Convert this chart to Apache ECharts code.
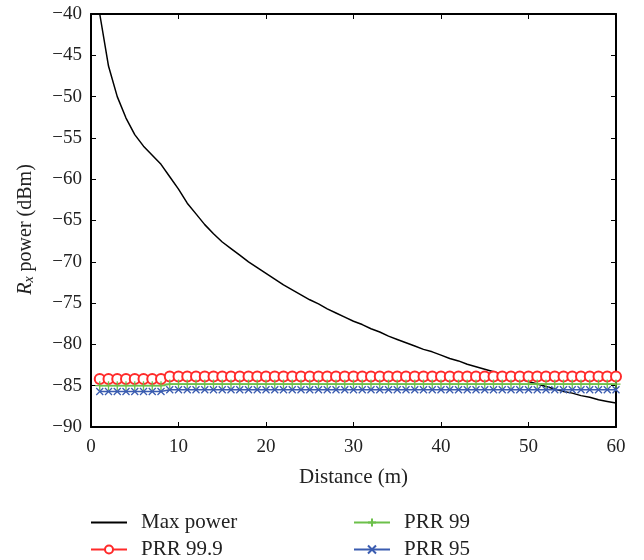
<!DOCTYPE html>
<html>
<head>
<meta charset="utf-8">
<script src="https://cdn.jsdelivr.net/npm/echarts@6/dist/echarts.min.js"></script>
<style>html,body{margin:0;padding:0;background:#fff}#c{width:644px;height:560px}</style>
</head>
<body>
<div id="c"></div>
<script>
var distance = [1,2,3,4,5,6,7,8,9,10,11,12,13,14,15,16,17,18,19,20,21,22,23,24,25,26,27,28,29,30,31,32,33,34,35,36,37,38,39,40,41,42,43,44,45,46,47,48,49,50,51,52,53,54,55,56,57,58,59,60];
var maxPower = [-40,-46.3,-50.0,-52.6,-54.6,-56.0,-57.1,-58.2,-59.7,-61.2,-62.9,-64.2,-65.5,-66.6,-67.6,-68.4,-69.2,-70.0,-70.7,-71.4,-72.1,-72.8,-73.4,-74.0,-74.6,-75.1,-75.7,-76.2,-76.7,-77.2,-77.6,-78.1,-78.5,-79.0,-79.4,-79.8,-80.2,-80.6,-80.9,-81.3,-81.7,-82.0,-82.4,-82.7,-83.0,-83.3,-83.6,-83.9,-84.2,-84.5,-84.8,-85.1,-85.4,-85.7,-85.9,-86.2,-86.4,-86.7,-86.9,-87.1];
var prr999 = [-84.2,-84.2,-84.2,-84.2,-84.2,-84.2,-84.2,-84.2,-83.9,-83.9,-83.9,-83.9,-83.9,-83.9,-83.9,-83.9,-83.9,-83.9,-83.9,-83.9,-83.9,-83.9,-83.9,-83.9,-83.9,-83.9,-83.9,-83.9,-83.9,-83.9,-83.9,-83.9,-83.9,-83.9,-83.9,-83.9,-83.9,-83.9,-83.9,-83.9,-83.9,-83.9,-83.9,-83.9,-83.9,-83.9,-83.9,-83.9,-83.9,-83.9,-83.9,-83.9,-83.9,-83.9,-83.9,-83.9,-83.9,-83.9,-83.9,-83.9];
var prr99 = [-85.0,-85.0,-85.0,-85.0,-85.0,-85.0,-85.0,-85.0,-84.8,-84.8,-84.8,-84.8,-84.8,-84.8,-84.8,-84.8,-84.8,-84.8,-84.8,-84.8,-84.8,-84.8,-84.8,-84.8,-84.8,-84.8,-84.8,-84.8,-84.8,-84.8,-84.8,-84.8,-84.8,-84.8,-84.8,-84.8,-84.8,-84.8,-84.8,-84.8,-84.8,-84.8,-84.8,-84.8,-84.8,-84.8,-84.8,-84.8,-84.8,-84.8,-84.8,-84.8,-84.8,-84.8,-84.8,-84.8,-84.8,-84.8,-84.8,-84.8];
var prr95 = [-85.7,-85.7,-85.7,-85.7,-85.7,-85.7,-85.7,-85.7,-85.5,-85.5,-85.5,-85.5,-85.5,-85.5,-85.5,-85.5,-85.5,-85.5,-85.5,-85.5,-85.5,-85.5,-85.5,-85.5,-85.5,-85.5,-85.5,-85.5,-85.5,-85.5,-85.5,-85.5,-85.5,-85.5,-85.5,-85.5,-85.5,-85.5,-85.5,-85.5,-85.5,-85.5,-85.5,-85.5,-85.5,-85.5,-85.5,-85.5,-85.5,-85.5,-85.5,-85.5,-85.5,-85.5,-85.5,-85.5,-85.5,-85.5,-85.5,-85.5];
var seriesNames = ['Max power','PRR 99.9','PRR 99','PRR 95'];

function pairs(ys){ return distance.map(function(x,i){ return [x, ys[i]]; }); }
var FONT = '"Liberation Serif", "DejaVu Serif", serif';
function minus(v){ return String(v).replace('-', '\u2212'); }

var chart = echarts.init(document.getElementById('c'), null, {renderer:'canvas'});
var axisCommon = {
  axisLine:{show:true, onZero:false, lineStyle:{color:'#000', width:2}},
  axisTick:{show:true, inside:true, length:5, lineStyle:{color:'#000', width:1}},
  splitLine:{show:false}
};
var legendText = {fontFamily:FONT, fontSize:21, color:'#222', padding:[0,0,0,9]};
chart.setOption({
  backgroundColor:'#fff',
  animation:false,
  grid:{left:91, right:28, top:14, bottom:133, containLabel:false},
  legend:[
    {data:[{name:'Max power', itemStyle:{opacity:0}},'PRR 99.9'], orient:'vertical', left:90, top:512, height:48, padding:0,
     itemWidth:36, itemHeight:10, itemGap:6, textStyle:legendText},
    {data:['PRR 99','PRR 95'], orient:'vertical', left:353, top:512, height:48, padding:0,
     itemWidth:36, itemHeight:10, itemGap:6, textStyle:legendText}
  ],
  xAxis:[
    Object.assign({type:'value', min:0, max:60, interval:10, position:'bottom',
      name:'Distance (m)', nameLocation:'middle', nameGap:40,
      nameTextStyle:{fontFamily:FONT, fontSize:21, color:'#222'},
      axisLabel:{fontFamily:FONT, fontSize:19, color:'#222', margin:11, formatter:minus}}, axisCommon),
    Object.assign({type:'value', min:0, max:60, interval:10, position:'top', axisLabel:{show:false}}, axisCommon)
  ],
  yAxis:[
    Object.assign({type:'value', min:-90, max:-40, interval:5, position:'left',
      name:'{i|R}{s|x}{n| power (dBm)}', nameLocation:'middle', nameGap:55, nameRotate:90,
      nameTextStyle:{fontFamily:FONT, fontSize:20, color:'#222', padding:[0,18,0,0],
        rich:{i:{fontFamily:FONT, fontSize:20, fontStyle:'italic', color:'#222'},
              s:{fontFamily:FONT, fontSize:14, fontStyle:'italic', color:'#222', verticalAlign:'bottom', padding:[7,0,0,0]},
              n:{fontFamily:FONT, fontSize:20, color:'#222'}}},
      axisLabel:{fontFamily:FONT, fontSize:19, color:'#222', margin:9, formatter:minus}}, axisCommon),
    Object.assign({type:'value', min:-90, max:-40, interval:5, position:'right', axisLabel:{show:false}}, axisCommon)
  ],
  series:[
    {name:seriesNames[0], type:'line', data:pairs(maxPower), showSymbol:false, symbol:'none',
     lineStyle:{color:'#000', width:1.5}, itemStyle:{color:'#000'}},
    {name:seriesNames[1], type:'line', data:pairs(prr999), symbol:'emptyCircle', symbolSize:10,
     lineStyle:{color:'#ff2a2a', width:1.3}, itemStyle:{color:'#ff2a2a', borderColor:'#ff2a2a', borderWidth:1.3}},
    {name:seriesNames[2], type:'line', data:pairs(prr99), symbol:'path://M5,0L5,10M0,5L10,5', symbolSize:9,
     lineStyle:{color:'#6cc04a', width:1.8}, itemStyle:{color:'#6cc04a', borderColor:'#6cc04a', borderWidth:1.3}},
    {name:seriesNames[3], type:'line', data:pairs(prr95), symbol:'path://M0,0L10,10M10,0L0,10', symbolSize:7,
     lineStyle:{color:'#3a5cb0', width:1.5}, itemStyle:{color:'#3a5cb0', borderColor:'#3a5cb0', borderWidth:1.3}}
  ]
});
</script>
</body>
</html>
